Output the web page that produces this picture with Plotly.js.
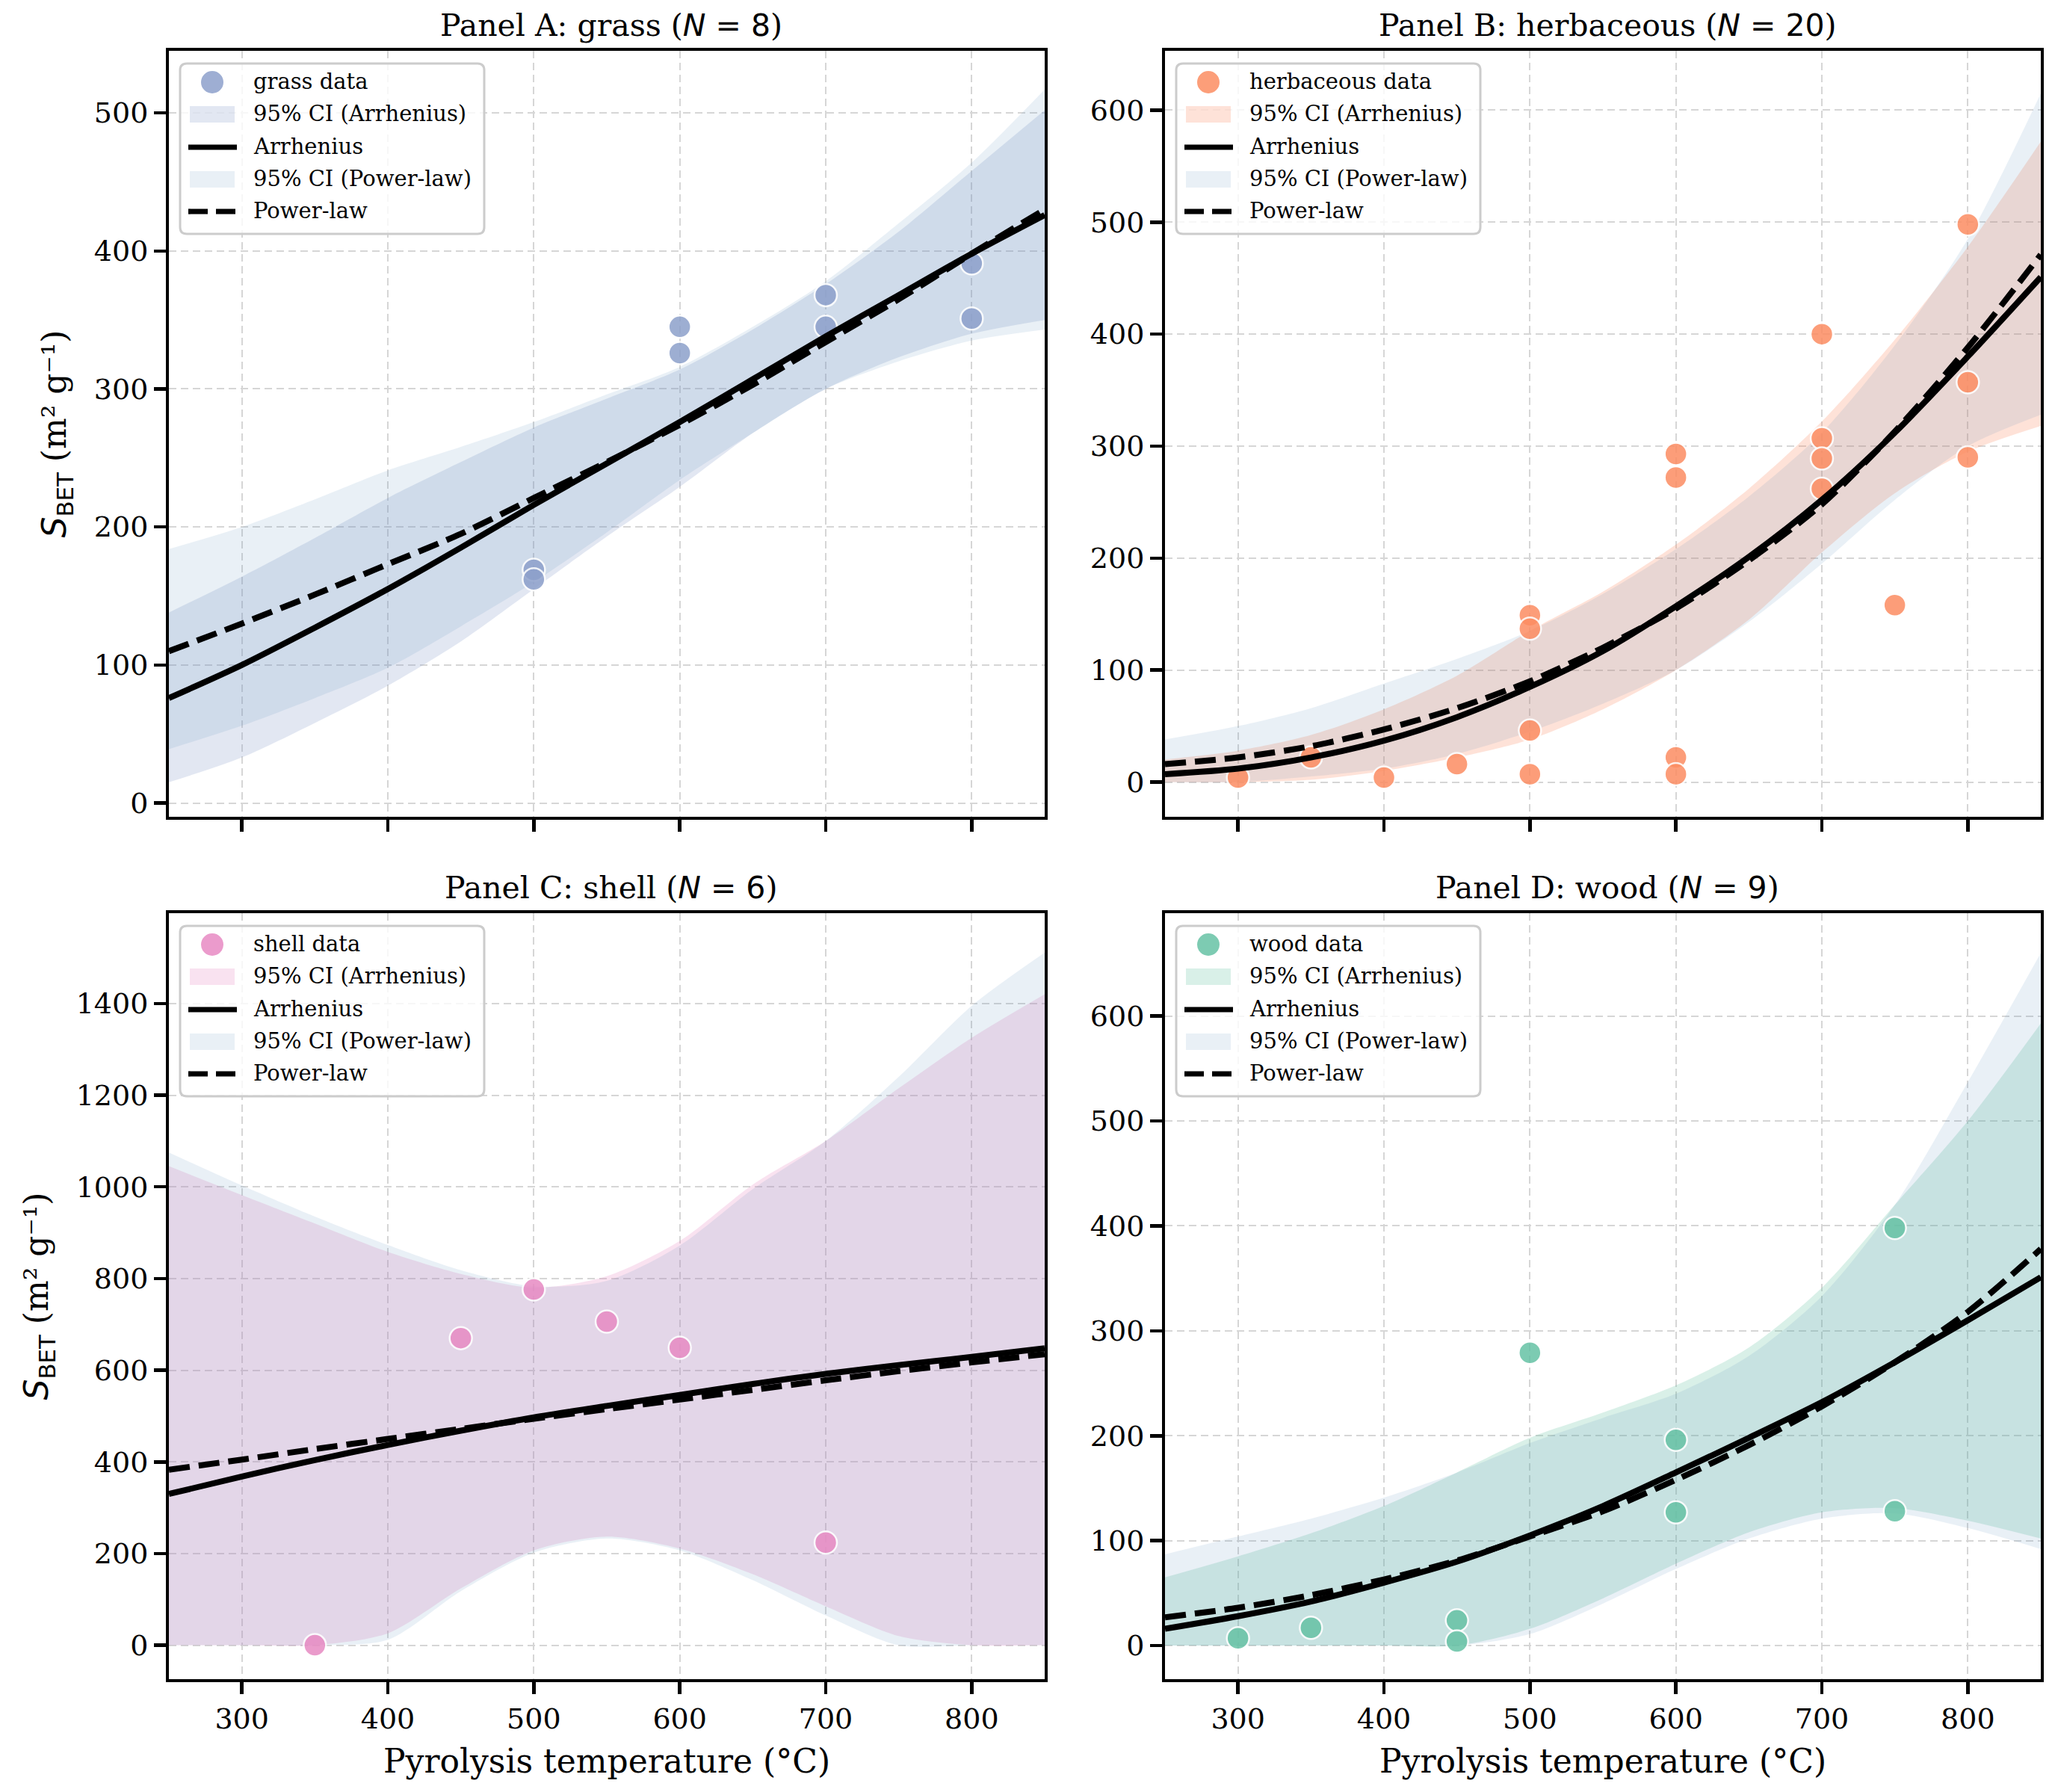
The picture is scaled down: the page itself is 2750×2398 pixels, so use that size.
<!DOCTYPE html>
<html>
<head>
<meta charset="utf-8">
<script src="https://cdn.plot.ly/plotly-3.0.1.min.js"></script>
<style>
  html, body { margin: 0; padding: 0; background: #fff; }
  #chart { width: 2750px; height: 2398px; }
</style>
</head>
<body>
<div id="chart"></div>
<script>
(function () {
  'use strict';

  // temperature grid the fitted curves / bands were read at (°C)
  var temps = [250, 300, 350, 400, 450, 500, 550, 600, 650, 700, 750, 800, 850];

  // Panel A: grass
  var grassT = [500, 500, 600, 600, 700, 700, 800, 800];
  var grassS = [169, 162, 345, 326, 368, 345, 391, 351];
  var grassArr = [76, 100, 127, 155, 185, 216, 246, 276, 307, 338, 368, 398, 426];
  var grassPow = [110, 130, 151, 173, 195, 221, 247, 274, 303, 334, 365, 398, 430];
  var grassArrHi = [138, 164, 192, 221, 247, 272, 293, 314, 343, 376, 414, 458, 502];
  var grassArrLo = [15, 33, 58, 85, 117, 155, 193, 229, 268, 300, 323, 340, 350];
  var grassPowHi = [184, 200, 220, 241, 258, 276, 296, 316, 345, 378, 420, 464, 517];
  var grassPowLo = [39, 56, 76, 98, 128, 160, 196, 234, 268, 300, 320, 335, 343];

  // Panel B: herbaceous
  var herbT = [300, 350, 400, 450, 500, 500, 500, 500, 600, 600, 600, 600, 700, 700, 700, 700, 750, 800, 800, 800];
  var herbS = [4, 22, 4, 16, 149, 137, 46, 7, 293, 272, 22, 7, 400, 307, 289, 262, 158, 498, 357, 290];
  var herbArr = [7, 12, 22, 37, 58, 85, 117, 157, 201, 252, 312, 380, 451];
  var herbPow = [16, 22, 32, 47, 66, 90, 120, 155, 198, 248, 313, 388, 471];
  var herbArrHi = [20, 28, 42, 65, 95, 135, 170, 212, 262, 322, 395, 478, 572];
  var herbArrLo = [0, 0, 2, 10, 22, 38, 65, 100, 145, 205, 258, 295, 318];
  var herbPowHi = [38, 50, 66, 88, 110, 135, 168, 208, 255, 312, 390, 485, 615];
  var herbPowLo = [0, 0, 5, 12, 25, 45, 70, 100, 143, 195, 252, 300, 328];

  // Panel C: shell
  var shellT = [350, 450, 500, 550, 600, 700];
  var shellS = [0, 670, 776, 706, 649, 224];
  var shellArr = [330, 368, 404, 437, 468, 497, 522, 546, 570, 592, 611, 629, 648];
  var shellPow = [383, 405, 428, 450, 472, 494, 515, 536, 557, 578, 598, 617, 635];
  var shellArrHi = [1045, 982, 920, 858, 810, 780, 805, 882, 1005, 1100, 1215, 1325, 1420];
  var shellArrLo = [0, 0, 0, 26, 124, 207, 237, 211, 155, 85, 20, 0, 0];
  var shellPowHi = [1075, 1003, 935, 873, 818, 783, 795, 872, 995, 1100, 1240, 1395, 1511];
  var shellPowLo = [0, 0, 0, 12, 118, 202, 233, 207, 142, 65, 0, 0, 0];

  // Panel D: wood
  var woodT = [300, 350, 450, 450, 500, 600, 600, 750, 750];
  var woodS = [7, 17, 24, 4, 279, 196, 127, 398, 128];
  var woodArr = [16, 28, 42, 60, 80, 105, 133, 165, 198, 232, 270, 310, 351];
  var woodPow = [27, 36, 48, 63, 81, 104, 128, 158, 191, 228, 270, 318, 378];
  var woodArrHi = [65, 85, 107, 133, 165, 198, 222, 248, 284, 341, 420, 500, 593];
  var woodArrLo = [0, 0, 0, 0, 0, 16, 45, 78, 108, 127, 131, 119, 102];
  var woodPowHi = [87, 104, 121, 141, 165, 193, 217, 240, 276, 333, 420, 537, 660];
  var woodPowLo = [0, 0, 0, 0, 0, 11, 40, 73, 102, 121, 126, 112, 92];

  var W = 2750, H = 2398;
  var serif = 'DejaVu Serif';
  var powFill = 'rgba(70,130,180,0.12)';
  var lineW = 8;
  var dashPat = '28px,12px';

  function px(x) { return x / W; }
  function py(y) { return 1 - y / H; }

  // plot-area boxes in pixels: [left, right, top, bottom]
  var boxes = [
    [226, 1398, 68, 1093],
    [1559, 2731, 68, 1093],
    [226, 1398, 1222, 2247],
    [1559, 2731, 1222, 2247]
  ];

  var panels = [
    { name: 'grass', letter: 'A', n: 8, rgb: '141,160,203', t: grassT, s: grassS,
      arr: grassArr, pow: grassPow, arrHi: grassArrHi, arrLo: grassArrLo, powHi: grassPowHi, powLo: grassPowLo,
      yr: [-10, 545], dt: 100 },
    { name: 'herbaceous', letter: 'B', n: 20, rgb: '252,141,98', t: herbT, s: herbS,
      arr: herbArr, pow: herbPow, arrHi: herbArrHi, arrLo: herbArrLo, powHi: herbPowHi, powLo: herbPowLo,
      yr: [-31, 653], dt: 100 },
    { name: 'shell', letter: 'C', n: 6, rgb: '231,138,195', t: shellT, s: shellS,
      arr: shellArr, pow: shellPow, arrHi: shellArrHi, arrLo: shellArrLo, powHi: shellPowHi, powLo: shellPowLo,
      yr: [-74, 1597], dt: 200 },
    { name: 'wood', letter: 'D', n: 9, rgb: '102,194,165', t: woodT, s: woodS,
      arr: woodArr, pow: woodPow, arrHi: woodArrHi, arrLo: woodArrLo, powHi: woodPowHi, powLo: woodPowLo,
      yr: [-32, 698], dt: 100 }
  ];

  var traces = [];
  var shapes = [];
  var annotations = [];
  var layout = {
    width: W, height: H,
    margin: { l: 0, r: 0, t: 0, b: 0 },
    paper_bgcolor: '#fff', plot_bgcolor: '#fff',
    font: { family: serif, size: 38, color: '#000' },
    showlegend: false,
    shapes: shapes,
    annotations: annotations
  };

  var sans = 'font-family:DejaVu Sans;';
  var yTitle = '<span style="' + sans + 'font-size:44px;font-style:italic">S</span>' +
    '<sub style="' + sans + 'font-size:31px">BET</sub> (m\u00b2 g\u207b\u00b9)';

  // legend box drawn by hand so the swatches keep their matplotlib sizes
  function roundRect(l, t, w, h, r) {
    var R = l + w, B = t + h;
    function pt(x, y) { return px(x) + ',' + py(y); }
    return 'M' + pt(l + r, t) + ' L' + pt(R - r, t) + ' Q' + pt(R, t) + ' ' + pt(R, t + r) +
      ' L' + pt(R, B - r) + ' Q' + pt(R, B) + ' ' + pt(R - r, B) +
      ' L' + pt(l + r, B) + ' Q' + pt(l, B) + ' ' + pt(l, B - r) +
      ' L' + pt(l, t + r) + ' Q' + pt(l, t) + ' ' + pt(l + r, t) + ' Z';
  }

  function addLegend(p, b) {
    var L = b[0] + 15, T = b[2] + 17;
    var rows = [25, 68, 112, 155, 198];
    var labels = [p.name + ' data', '95% CI (Arrhenius)', 'Arrhenius', '95% CI (Power-law)', 'Power-law'];
    shapes.push({ type: 'path', xref: 'paper', yref: 'paper', layer: 'above',
      path: roundRect(L, T, 407, 228, 9),
      fillcolor: 'rgba(255,255,255,0.8)', line: { color: '#cccccc', width: 3 } });
    // marker
    var cy = T + rows[0];
    shapes.push({ type: 'circle', xref: 'paper', yref: 'paper', layer: 'above',
      x0: px(L + 43 - 16), x1: px(L + 43 + 16), y0: py(cy + 16), y1: py(cy - 16),
      fillcolor: 'rgba(' + p.rgb + ',0.85)', line: { color: '#fff', width: 2 } });
    // CI patches
    [[1, 'rgba(' + p.rgb + ',0.25)'], [3, powFill]].forEach(function (it) {
      var y = T + rows[it[0]];
      shapes.push({ type: 'rect', xref: 'paper', yref: 'paper', layer: 'above',
        x0: px(L + 13), x1: px(L + 73), y0: py(y + 11), y1: py(y - 11),
        fillcolor: it[1], line: { width: 0 } });
    });
    // line samples
    [[2, 'solid'], [4, '26px,11px']].forEach(function (it) {
      var y = T + rows[it[0]];
      shapes.push({ type: 'line', xref: 'paper', yref: 'paper', layer: 'above',
        x0: px(L + 11), x1: px(L + 76), y0: py(y), y1: py(y),
        line: { color: '#000', width: lineW * 0.9, dash: it[1] } });
    });
    labels.forEach(function (txt, j) {
      annotations.push({ xref: 'paper', yref: 'paper', x: px(L + 96), y: py(T + rows[j] - 1),
        xanchor: 'left', yanchor: 'middle', showarrow: false, text: txt,
        font: { family: serif, size: 29, color: '#000' } });
    });
  }

  panels.forEach(function (p, i) {
    var k = i + 1;
    var sfx = k === 1 ? '' : String(k);
    var xa = 'x' + sfx, ya = 'y' + sfx;
    var b = boxes[i];
    var smooth = { width: 0, shape: 'spline', smoothing: 0.8 };

    traces.push({ x: temps, y: p.arrHi, xaxis: xa, yaxis: ya, mode: 'lines', line: smooth,
      hoverinfo: 'skip', name: 'Arrhenius CI upper' });
    traces.push({ x: temps, y: p.arrLo, xaxis: xa, yaxis: ya, mode: 'lines', fill: 'tonexty',
      fillcolor: 'rgba(' + p.rgb + ',0.25)', line: smooth, name: '95% CI (Arrhenius)' });
    traces.push({ x: temps, y: p.powHi, xaxis: xa, yaxis: ya, mode: 'lines', line: smooth,
      hoverinfo: 'skip', name: 'Power-law CI upper' });
    traces.push({ x: temps, y: p.powLo, xaxis: xa, yaxis: ya, mode: 'lines', fill: 'tonexty',
      fillcolor: powFill, line: smooth, name: '95% CI (Power-law)' });
    traces.push({ x: p.t, y: p.s, xaxis: xa, yaxis: ya, mode: 'markers',
      marker: { size: 30, color: 'rgb(' + p.rgb + ')', opacity: 0.85, line: { color: '#fff', width: 2.5 } },
      name: p.name + ' data' });
    traces.push({ x: temps, y: p.arr, xaxis: xa, yaxis: ya, mode: 'lines',
      line: { color: '#000', width: lineW, shape: 'spline', smoothing: 0.8 }, name: 'Arrhenius' });
    traces.push({ x: temps, y: p.pow, xaxis: xa, yaxis: ya, mode: 'lines',
      line: { color: '#000', width: lineW, dash: dashPat, shape: 'spline', smoothing: 0.8 }, name: 'Power-law' });

    var bottomRow = i >= 2;
    var xax = {
      domain: [px(b[0]), px(b[1])], anchor: ya,
      range: [250, 850], tick0: 300, dtick: 100,
      showticklabels: bottomRow,
      ticks: 'outside', ticklen: 16, tickwidth: 4.5, tickcolor: '#000',
      tickfont: { family: serif, size: 38, color: '#000' },
      showline: true, linecolor: '#000', linewidth: 4, mirror: true,
      showgrid: true, gridcolor: '#d6d6d6', gridwidth: 2, griddash: '10px,6px',
      zeroline: false
    };
    if (bottomRow) {
      xax.title = { text: 'Pyrolysis temperature (\u00b0C)', font: { family: serif, size: 44 }, standoff: 22 };
    }
    layout['xaxis' + sfx] = xax;

    var yax = {
      domain: [py(b[3]), py(b[2])], anchor: xa,
      range: p.yr, tick0: 0, dtick: p.dt,
      ticks: 'outside', ticklen: 16, tickwidth: 4.5, tickcolor: '#000',
      tickfont: { family: serif, size: 38, color: '#000' },
      showline: true, linecolor: '#000', linewidth: 4, mirror: true,
      showgrid: true, gridcolor: '#d6d6d6', gridwidth: 2, griddash: '10px,6px',
      zeroline: false
    };
    if (i % 2 === 0) {
      yax.title = { text: yTitle, font: { family: serif, size: 44 }, standoff: 24 };
    }
    layout['yaxis' + sfx] = yax;

    addLegend(p, b);

    annotations.push({
      xref: 'paper', yref: 'paper',
      x: (px(b[0]) + px(b[1])) / 2 + px(6), y: py(b[2]),
      xanchor: 'center', yanchor: 'bottom', yshift: 8, showarrow: false,
      text: 'Panel ' + p.letter + ': ' + p.name + ' (' +
        '<span style="' + sans + 'font-size:41px;font-style:italic">N</span>' +
        '<span style="' + sans + 'font-size:41px"> = ' + p.n + '</span>)',
      font: { family: serif, size: 41, color: '#000' }
    });
  });

  Plotly.newPlot('chart', traces, layout, { displayModeBar: false, staticPlot: true });
})();
</script>
</body>
</html>
